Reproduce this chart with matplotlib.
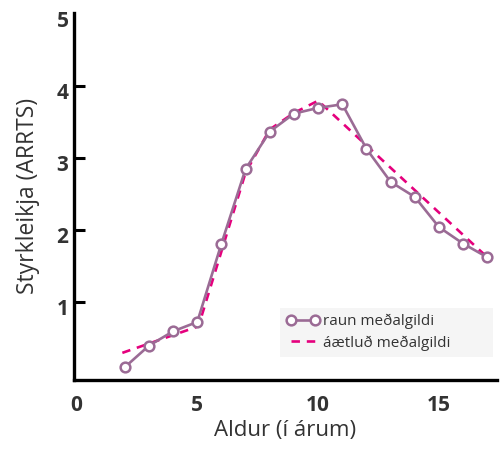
import matplotlib
matplotlib.use("Agg")
import matplotlib.pyplot as plt
from matplotlib.transforms import ScaledTranslation

plt.rcParams["font.family"] = ["Open Sans", "DejaVu Sans"]

# raun meðalgildi (actual mean)
ages = [2, 3, 4, 5, 6, 7, 8, 9, 10, 11, 12, 13, 14, 15, 16, 17]
actual = [0.09, 0.39, 0.59, 0.72, 1.81, 2.85, 3.37, 3.62, 3.70, 3.75,
          3.13, 2.67, 2.46, 2.04, 1.81, 1.62]

# áætluð meðalgildi (estimated mean)
est_ages = [1.9, 5.05, 7.0, 8.0, 9.0, 10.0, 17.0]
estimated = [0.29, 0.66, 2.80, 3.40, 3.63, 3.80, 1.62]

x_ticks = [0, 5, 10, 15]
y_ticks = [1, 2, 3, 4, 5]

MAUVE = "#9b6b95"
MAGENTA = "#e5007d"
DARK = "#333333"

fig = plt.figure(figsize=(5, 4.5), dpi=100)
ax = fig.add_axes([0.148, 0.156, 0.846, 0.815])

ax.plot(est_ages, estimated, linestyle=(0, (3.2, 2.6)), color=MAGENTA,
        linewidth=1.9, label="áætluð meðalgildi", zorder=2)
ax.plot(ages, actual, color=MAUVE, linewidth=1.9, marker="o",
        markersize=7, markerfacecolor="white", markeredgecolor=MAUVE,
        markeredgewidth=1.8, label="raun meðalgildi", zorder=3)

ax.set_xlim(-0.1, 17.4)
ax.set_ylim(-0.085, 5.02)
ax.set_xticks(x_ticks)
ax.set_yticks(y_ticks)
ax.tick_params(axis="x", length=0, pad=11, labelsize=15, labelcolor=DARK)
ax.tick_params(axis="y", direction="in", length=8, width=2.2, pad=4,
               labelsize=15, labelcolor=DARK)
# no tick mark at the top of the axis
ax.yaxis.get_major_ticks()[-1].tick1line.set_visible(False)

shift = ScaledTranslation(0, -0.05, fig.dpi_scale_trans)
for lab in ax.get_yticklabels():
    lab.set_fontweight("bold")
    lab.set_transform(lab.get_transform() + shift)
for lab in ax.get_xticklabels():
    lab.set_fontweight("bold")

for side in ["top", "right"]:
    ax.spines[side].set_visible(False)
for side in ["left", "bottom"]:
    ax.spines[side].set_linewidth(2.4)
    ax.spines[side].set_color("black")

ax.set_xlabel("Aldur (í árum)", fontsize=16, color=DARK, labelpad=3)
ax.set_ylabel("Styrkleikja (ARRTS)", fontsize=16.5, color=DARK, labelpad=12)

handles, labels = ax.get_legend_handles_labels()
leg = ax.legend(handles[::-1], labels[::-1], loc="lower left",
                bbox_to_anchor=(0.487, 0.063, 0.503, 0.12), mode="expand",
                fontsize=11, numpoints=2, handlelength=2.2,
                handletextpad=0.2, frameon=True, fancybox=False,
                borderpad=0.4, borderaxespad=0, labelspacing=0.4)
leg.get_frame().set_facecolor("#f3f3f3")
leg.get_frame().set_edgecolor("none")
for t in leg.get_texts():
    t.set_color(DARK)

fig.savefig("out.png", dpi=100)
